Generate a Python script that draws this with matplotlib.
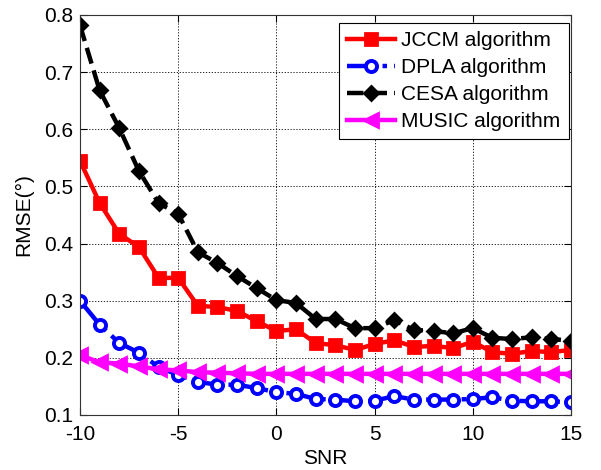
"""RMSE versus SNR for four DOA estimation algorithms."""

import matplotlib
matplotlib.use("Agg")
import matplotlib.pyplot as plt

plt.rcParams["font.family"] = ["Liberation Sans", "DejaVu Sans"]

snr = list(range(-10, 16))

jccm = [0.545, 0.471, 0.417, 0.394, 0.340, 0.340, 0.291, 0.289, 0.282, 0.264,
        0.247, 0.250, 0.226, 0.222, 0.214, 0.224, 0.231, 0.219, 0.221, 0.217,
        0.228, 0.210, 0.207, 0.212, 0.210, 0.214]
dpla = [0.300, 0.258, 0.226, 0.209, 0.184, 0.170, 0.158, 0.153, 0.153, 0.147,
        0.140, 0.137, 0.128, 0.127, 0.124, 0.125, 0.133, 0.127, 0.127, 0.127,
        0.128, 0.131, 0.125, 0.124, 0.124, 0.122]
cesa = [0.782, 0.668, 0.602, 0.527, 0.471, 0.452, 0.385, 0.366, 0.343, 0.322,
        0.301, 0.296, 0.268, 0.268, 0.252, 0.252, 0.266, 0.249, 0.247, 0.243,
        0.252, 0.235, 0.233, 0.236, 0.233, 0.230]
music = [0.205, 0.192, 0.190, 0.185, 0.180, 0.178, 0.175, 0.174, 0.173, 0.172,
         0.172, 0.172, 0.172, 0.172, 0.172, 0.172, 0.172, 0.172, 0.172, 0.172,
         0.172, 0.172, 0.172, 0.172, 0.172, 0.172]

x_ticks = [-10, -5, 0, 5, 10, 15]
y_ticks = [0.1, 0.2, 0.3, 0.4, 0.5, 0.6, 0.7, 0.8]

fig = plt.figure(figsize=(6.01, 4.70), dpi=100)
# axes box: x 80..571 px, y 15..415 px
ax = fig.add_axes([80 / 601, 55 / 470, 491 / 601, 400 / 470])

ax.plot(snr, jccm, color="red", linestyle="-", linewidth=3.2,
        marker="s", markersize=8, markerfacecolor="red", markeredgewidth=2,
        label="JCCM algorithm")
ax.plot(snr, dpla, color="blue", linestyle="-.", linewidth=3.2,
        marker="o", markersize=8, markerfacecolor="white", markeredgewidth=2.8,
        label="DPLA algorithm")
ax.plot(snr, cesa, color="black", linestyle="--", linewidth=3.2,
        marker="D", markersize=7, markerfacecolor="black", markeredgewidth=2,
        label="CESA algorithm")
ax.plot(snr, music, color="magenta", linestyle="-", linewidth=3.2,
        marker="<", markersize=10, markerfacecolor="magenta", markeredgewidth=2,
        label="MUSIC algorithm")

ax.set_xlim(-10, 15)
ax.set_ylim(0.1, 0.8)
ax.set_xticks(x_ticks)
ax.set_yticks(y_ticks)
ax.set_xticklabels([str(t) for t in x_ticks])
ax.set_yticklabels([f"{t:.1f}" for t in y_ticks])
ax.tick_params(direction="in", top=True, right=True, labelsize=15, length=5)
ax.tick_params(axis="y", pad=5)
ax.tick_params(axis="x", pad=7)
ax.grid(True, linestyle=(0, (1.5, 2)), color="black", linewidth=0.6)
for spine in ax.spines.values():
    spine.set_linewidth(0.8)
    spine.set_color("#333333")

ax.set_xlabel("SNR", fontsize=15, labelpad=4)
ax.set_ylabel("RMSE(°)", fontsize=15, labelpad=8)

leg = ax.legend(loc="upper right", bbox_to_anchor=(0.996, 0.98),
                fontsize=15, handlelength=2.3,
                fancybox=False, framealpha=1, edgecolor="black",
                borderpad=0.4, labelspacing=0.38, handletextpad=0.3,
                borderaxespad=0.0)
leg.get_frame().set_linewidth(0.8)

fig.savefig("out.png", dpi=100)
